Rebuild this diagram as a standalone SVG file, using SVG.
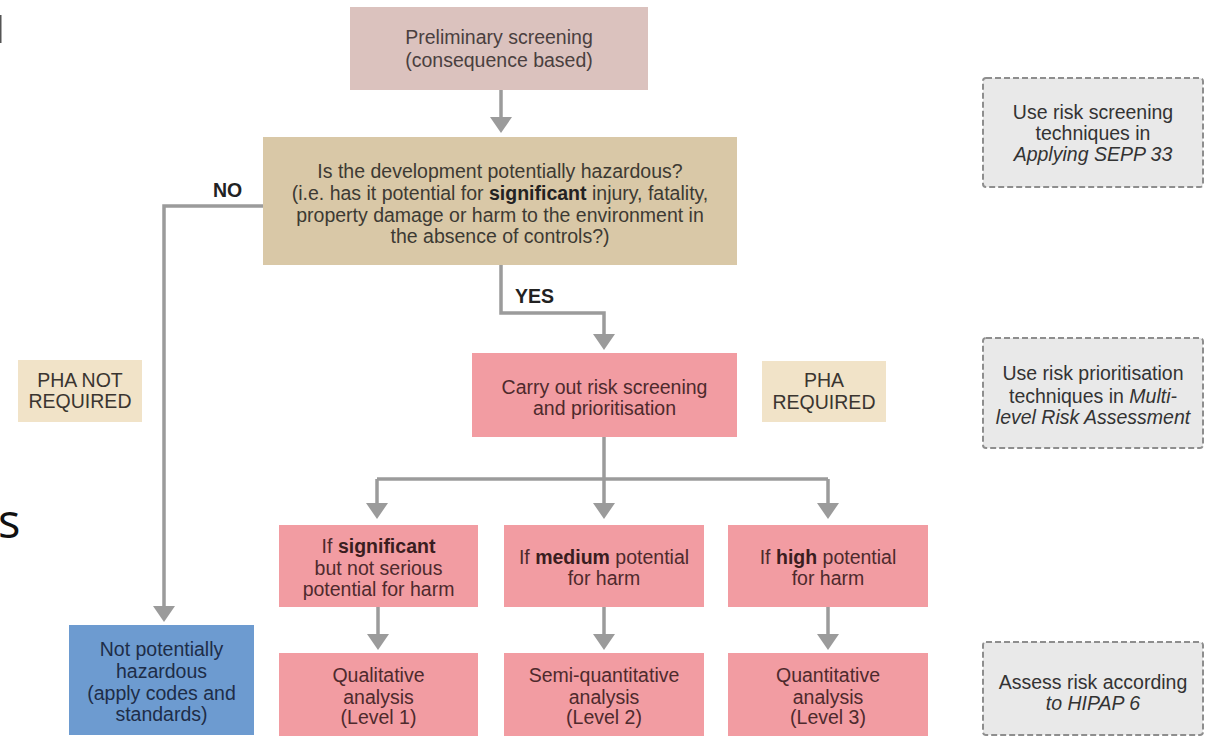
<svg xmlns="http://www.w3.org/2000/svg" width="1213" height="740" viewBox="0 0 1213 740">
<style>
text{font-family:"Liberation Sans",Arial,sans-serif;font-size:19.5px;text-anchor:middle}
.b{font-weight:bold}
.i{font-style:italic}
.conn{fill:none;stroke:#9b9b9b;stroke-width:3.5}
.pink rect{fill:#f29ca2}
.pink text{fill:#4e2a2d}
.pha rect{fill:#f1e3c8}
.pha text{fill:#3a3530}
.note rect{fill:#e9e9e9;stroke:#8e8e8e;stroke-width:2;stroke-dasharray:6 3}
.note text{fill:#333}
</style>
<defs>
<marker id="arr" markerUnits="userSpaceOnUse" markerWidth="18" markerHeight="24" refX="8" refY="11" orient="auto">
<path d="M0,0 L16,11 L0,22 z" fill="#9b9b9b"/>
</marker>
</defs>
<rect width="1213" height="740" fill="#ffffff"/>
<rect x="0" y="15" width="1.5" height="28" fill="#555"/>
<text x="-2" y="538" style="font-family:'Open Sans',sans-serif;font-size:47px;text-anchor:start" fill="#111">s</text>

<g id="connectors">
<path class="conn" d="M501,90 V125" marker-end="url(#arr)"/>
<path class="conn" d="M263,206 H164 V614" marker-end="url(#arr)"/>
<path class="conn" d="M501,265 V313 H604 V342" marker-end="url(#arr)"/>
<path class="conn" d="M604,437 V479"/>
<path class="conn" d="M377,479 H828"/>
<path class="conn" d="M377,479 V511" marker-end="url(#arr)"/>
<path class="conn" d="M604,479 V511" marker-end="url(#arr)"/>
<path class="conn" d="M828,479 V511" marker-end="url(#arr)"/>
<path class="conn" d="M378,607 V642" marker-end="url(#arr)"/>
<path class="conn" d="M604,607 V642" marker-end="url(#arr)"/>
<path class="conn" d="M828,607 V642" marker-end="url(#arr)"/>
<text class="b" x="213" y="197" style="text-anchor:start" fill="#222">NO</text>
<text class="b" x="515" y="303" style="text-anchor:start" fill="#222">YES</text>
</g>

<g id="preliminary">
<rect x="350" y="7" width="298" height="83" fill="#dbc2be"/>
<text x="499" y="44" fill="#4a3f3f">Preliminary screening</text>
<text x="499" y="67" fill="#4a3f3f">(consequence based)</text>
</g>

<g id="hazardous">
<rect x="263" y="137" width="474" height="128" fill="#d9c8a7"/>
<text x="500" y="178" fill="#3d3a33">Is the development potentially hazardous?</text>
<text x="500" y="200" fill="#3d3a33">(i.e. has it potential for <tspan class="b" fill="#222">significant</tspan> injury, fatality,</text>
<text x="500" y="222" fill="#3d3a33">property damage or harm to the environment in</text>
<text x="500" y="243" fill="#3d3a33">the absence of controls?)</text>
</g>

<g id="pha-not-required" class="pha">
<rect x="18" y="360" width="124" height="62"/>
<text x="80" y="387">PHA NOT</text>
<text x="80" y="408">REQUIRED</text>
</g>

<g id="carry-out" class="pink">
<rect x="472" y="353" width="265" height="84"/>
<text x="604.5" y="394">Carry out risk screening</text>
<text x="604.5" y="415">and prioritisation</text>
</g>

<g id="pha-required" class="pha">
<rect x="762" y="361" width="124" height="61"/>
<text x="824" y="387">PHA</text>
<text x="824" y="409">REQUIRED</text>
</g>

<g id="significant" class="pink">
<rect x="279" y="525" width="199" height="82"/>
<text x="378.5" y="553">If <tspan class="b" fill="#3a1d20">significant</tspan></text>
<text x="378.5" y="575">but not serious</text>
<text x="378.5" y="596">potential for harm</text>
</g>

<g id="medium" class="pink">
<rect x="504" y="525" width="200" height="82"/>
<text x="604" y="564">If <tspan class="b" fill="#3a1d20">medium</tspan> potential</text>
<text x="604" y="585">for harm</text>
</g>

<g id="high" class="pink">
<rect x="728" y="525" width="200" height="82"/>
<text x="828" y="564">If <tspan class="b" fill="#3a1d20">high</tspan> potential</text>
<text x="828" y="585">for harm</text>
</g>

<g id="not-hazardous">
<rect x="69" y="625" width="185" height="110" fill="#6d9bd0"/>
<text x="161.5" y="656" fill="#1e2d48">Not potentially</text>
<text x="161.5" y="678" fill="#1e2d48">hazardous</text>
<text x="161.5" y="700" fill="#1e2d48">(apply codes and</text>
<text x="161.5" y="721" fill="#1e2d48">standards)</text>
</g>

<g id="qualitative" class="pink">
<rect x="279" y="653" width="199" height="83"/>
<text x="378.5" y="682">Qualitative</text>
<text x="378.5" y="704">analysis</text>
<text x="378.5" y="724">(Level 1)</text>
</g>

<g id="semi-quantitative" class="pink">
<rect x="504" y="653" width="200" height="83"/>
<text x="604" y="682">Semi-quantitative</text>
<text x="604" y="704">analysis</text>
<text x="604" y="724">(Level 2)</text>
</g>

<g id="quantitative" class="pink">
<rect x="728" y="653" width="200" height="83"/>
<text x="828" y="682">Quantitative</text>
<text x="828" y="704">analysis</text>
<text x="828" y="724">(Level 3)</text>
</g>

<g id="note-sepp" class="note">
<rect x="983" y="78" width="220" height="109" rx="3"/>
<text x="1093" y="119">Use risk screening</text>
<text x="1093" y="140">techniques in</text>
<text x="1093" y="161" class="i">Applying SEPP 33</text>
</g>

<g id="note-multilevel" class="note">
<rect x="983" y="338" width="220" height="110" rx="3"/>
<text x="1093" y="380">Use risk prioritisation</text>
<text x="1093" y="403">techniques in <tspan class="i">Multi-</tspan></text>
<text x="1093" y="424" class="i">level Risk Assessment</text>
</g>

<g id="note-hipap" class="note">
<rect x="983" y="642" width="220" height="93" rx="3"/>
<text x="1093" y="689">Assess risk according</text>
<text x="1093" y="710"><tspan class="i">to HIPAP 6</tspan></text>
</g>
</svg>
